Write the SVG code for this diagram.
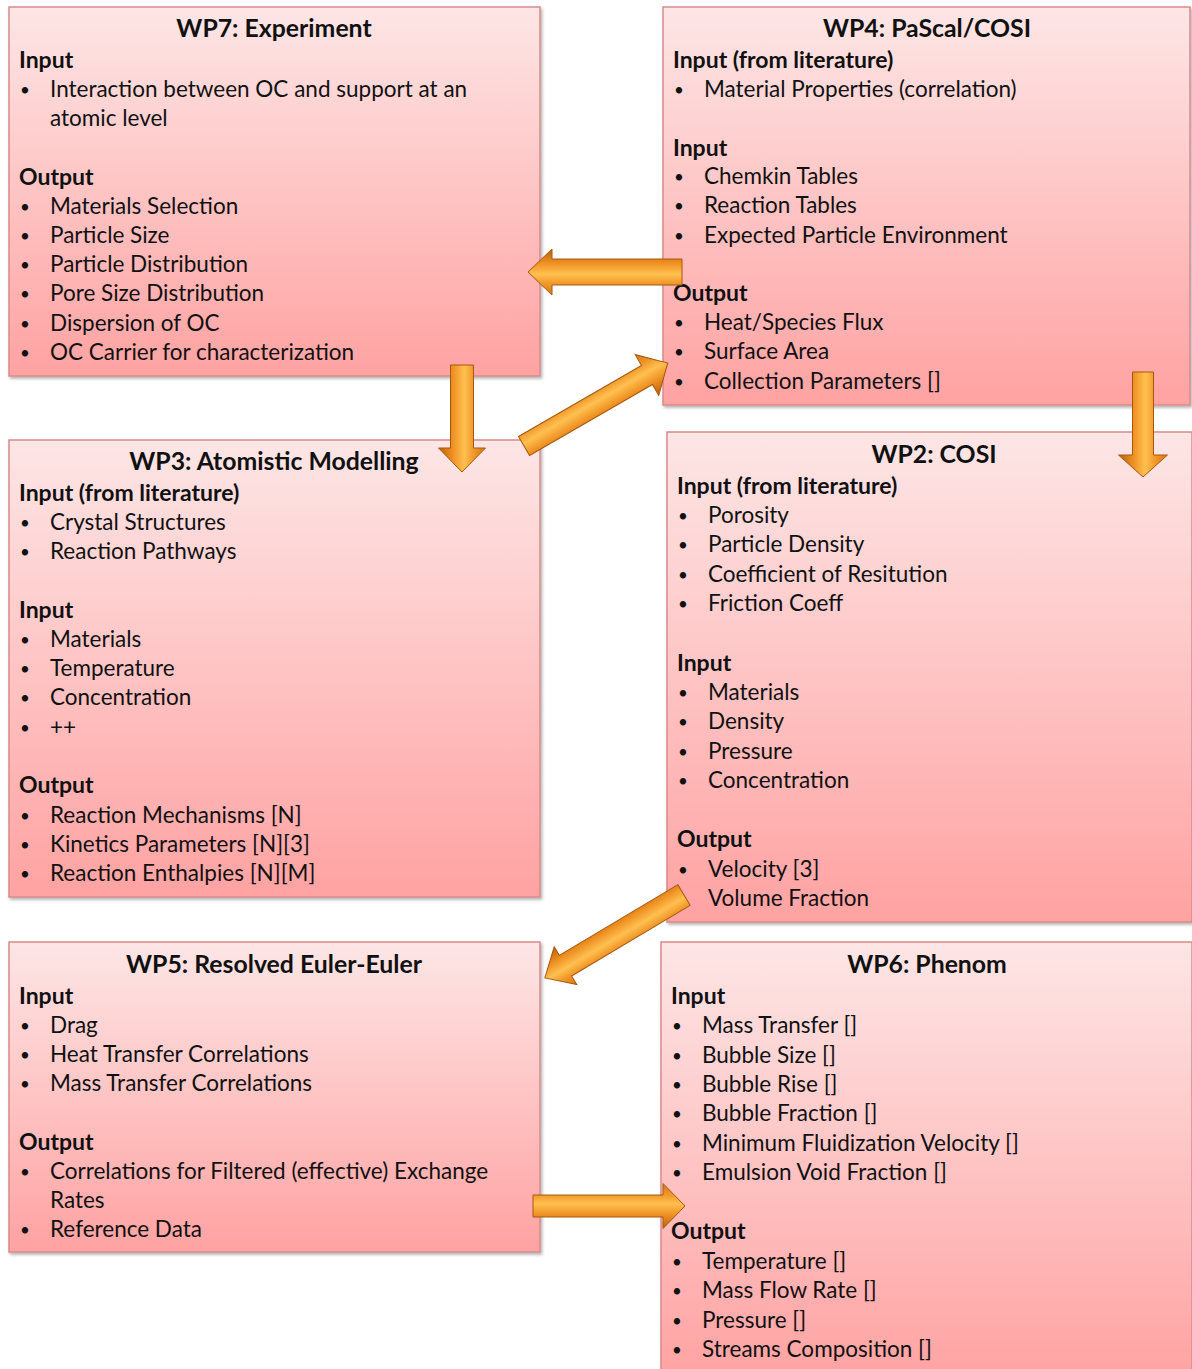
<svg xmlns="http://www.w3.org/2000/svg" width="1192" height="1369" viewBox="0 0 1192 1369">
<style>
text{font-family:Lato,"Open Sans","Liberation Sans",sans-serif;fill:#111;}
.t{font-size:24.8px;font-weight:bold;text-anchor:middle;}
.h{font-size:23px;font-weight:bold;}
.i{font-size:22.5px;}
.b{font-size:17px;}
.box{fill:url(#pink);stroke:#d98a8a;stroke-width:1.5;filter:url(#sh);}
.arr{fill:url(#org);stroke:#a8580c;stroke-width:1;}
</style>
<defs>
<linearGradient id="pink" x1="0" y1="0" x2="0" y2="1">
<stop offset="0" stop-color="#fde6e6"/>
<stop offset="1" stop-color="#ffa2a2"/>
</linearGradient>
<linearGradient id="org" x1="0" y1="0" x2="0" y2="1">
<stop offset="0" stop-color="#d97714"/>
<stop offset="0.25" stop-color="#f0982a"/>
<stop offset="0.45" stop-color="#ffc050"/>
<stop offset="0.7" stop-color="#ee9022"/>
<stop offset="1" stop-color="#b8600c"/>
</linearGradient>
<filter id="sh" x="-5%" y="-5%" width="110%" height="110%">
<feDropShadow dx="1.5" dy="2" stdDeviation="1.5" flood-color="#000" flood-opacity="0.3"/>
</filter>
</defs>
<rect width="1192" height="1369" fill="#fff"/>

<g id="wp7">
<rect class="box" x="9" y="7" width="531" height="369"/>
<text class="t" x="274" y="37">WP7: Experiment</text>
<text class="h" x="19" y="68">Input</text>
<text class="b" x="20" y="96">•</text><text class="i" x="50" y="97">Interaction between OC and support at an</text>
<text class="i" x="50" y="126">atomic level</text>
<text class="h" x="19" y="185">Output</text>
<text class="b" x="20" y="213">•</text><text class="i" x="50" y="214">Materials Selection</text>
<text class="b" x="20" y="242">•</text><text class="i" x="50" y="243">Particle Size</text>
<text class="b" x="20" y="271">•</text><text class="i" x="50" y="272">Particle Distribution</text>
<text class="b" x="20" y="300">•</text><text class="i" x="50" y="301">Pore Size Distribution</text>
<text class="b" x="20" y="330">•</text><text class="i" x="50" y="331">Dispersion of OC</text>
<text class="b" x="20" y="359">•</text><text class="i" x="50" y="360">OC Carrier for characterization</text>
</g>

<g id="wp4">
<rect class="box" x="663" y="7" width="527" height="398"/>
<text class="t" x="927" y="37">WP4: PaScal/COSI</text>
<text class="h" x="673" y="68">Input (from literature)</text>
<text class="b" x="674" y="96">•</text><text class="i" x="704" y="97">Material Properties (correlation)</text>
<text class="h" x="673" y="156">Input</text>
<text class="b" x="674" y="183">•</text><text class="i" x="704" y="184">Chemkin Tables</text>
<text class="b" x="674" y="212">•</text><text class="i" x="704" y="213">Reaction Tables</text>
<text class="b" x="674" y="242">•</text><text class="i" x="704" y="243">Expected Particle Environment</text>
<text class="h" x="673" y="301">Output</text>
<text class="b" x="674" y="329">•</text><text class="i" x="704" y="330">Heat/Species Flux</text>
<text class="b" x="674" y="358">•</text><text class="i" x="704" y="359">Surface Area</text>
<text class="b" x="674" y="388">•</text><text class="i" x="704" y="389">Collection Parameters []</text>
</g>

<g id="wp3">
<rect class="box" x="9" y="440" width="531" height="457"/>
<text class="t" x="274" y="470">WP3: Atomistic Modelling</text>
<text class="h" x="19" y="501">Input (from literature)</text>
<text class="b" x="20" y="529">•</text><text class="i" x="50" y="530">Crystal Structures</text>
<text class="b" x="20" y="558">•</text><text class="i" x="50" y="559">Reaction Pathways</text>
<text class="h" x="19" y="618">Input</text>
<text class="b" x="20" y="646">•</text><text class="i" x="50" y="647">Materials</text>
<text class="b" x="20" y="675">•</text><text class="i" x="50" y="676">Temperature</text>
<text class="b" x="20" y="704">•</text><text class="i" x="50" y="705">Concentration</text>
<text class="b" x="20" y="734">•</text><text class="i" x="50" y="735">++</text>
<text class="h" x="19" y="793">Output</text>
<text class="b" x="20" y="822">•</text><text class="i" x="50" y="823">Reaction Mechanisms [N]</text>
<text class="b" x="20" y="851">•</text><text class="i" x="50" y="852">Kinetics Parameters [N][3]</text>
<text class="b" x="20" y="880">•</text><text class="i" x="50" y="881">Reaction Enthalpies [N][M]</text>
</g>

<g id="wp2">
<rect class="box" x="667" y="432" width="525" height="490"/>
<text class="t" x="934" y="463">WP2: COSI</text>
<text class="h" x="677" y="494">Input (from literature)</text>
<text class="b" x="678" y="522">•</text><text class="i" x="708" y="523">Porosity</text>
<text class="b" x="678" y="551">•</text><text class="i" x="708" y="552">Particle Density</text>
<text class="b" x="678" y="581">•</text><text class="i" x="708" y="582">Coefficient of Resitution</text>
<text class="b" x="678" y="610">•</text><text class="i" x="708" y="611">Friction Coeff</text>
<text class="h" x="677" y="671">Input</text>
<text class="b" x="678" y="699">•</text><text class="i" x="708" y="700">Materials</text>
<text class="b" x="678" y="728">•</text><text class="i" x="708" y="729">Density</text>
<text class="b" x="678" y="758">•</text><text class="i" x="708" y="759">Pressure</text>
<text class="b" x="678" y="787">•</text><text class="i" x="708" y="788">Concentration</text>
<text class="h" x="677" y="847">Output</text>
<text class="b" x="678" y="876">•</text><text class="i" x="708" y="877">Velocity [3]</text>
<text class="i" x="708" y="906">Volume Fraction</text>
</g>

<g id="wp5">
<rect class="box" x="9" y="942" width="531" height="310"/>
<text class="t" x="274" y="973">WP5: Resolved Euler-Euler</text>
<text class="h" x="19" y="1004">Input</text>
<text class="b" x="20" y="1032">•</text><text class="i" x="50" y="1033">Drag</text>
<text class="b" x="20" y="1061">•</text><text class="i" x="50" y="1062">Heat Transfer Correlations</text>
<text class="b" x="20" y="1090">•</text><text class="i" x="50" y="1091">Mass Transfer Correlations</text>
<text class="h" x="19" y="1150">Output</text>
<text class="b" x="20" y="1178">•</text><text class="i" x="50" y="1179">Correlations for Filtered (effective) Exchange</text>
<text class="i" x="50" y="1208">Rates</text>
<text class="b" x="20" y="1236">•</text><text class="i" x="50" y="1237">Reference Data</text>
</g>

<g id="wp6">
<rect class="box" x="661" y="942" width="531" height="440"/>
<text class="t" x="927" y="973">WP6: Phenom</text>
<text class="h" x="671" y="1004">Input</text>
<text class="b" x="672" y="1032">•</text><text class="i" x="702" y="1033">Mass Transfer []</text>
<text class="b" x="672" y="1062">•</text><text class="i" x="702" y="1063">Bubble Size []</text>
<text class="b" x="672" y="1091">•</text><text class="i" x="702" y="1092">Bubble Rise []</text>
<text class="b" x="672" y="1120">•</text><text class="i" x="702" y="1121">Bubble Fraction []</text>
<text class="b" x="672" y="1150">•</text><text class="i" x="702" y="1151">Minimum Fluidization Velocity []</text>
<text class="b" x="672" y="1179">•</text><text class="i" x="702" y="1180">Emulsion Void Fraction []</text>
<text class="h" x="671" y="1239">Output</text>
<text class="b" x="672" y="1268">•</text><text class="i" x="702" y="1269">Temperature []</text>
<text class="b" x="672" y="1297">•</text><text class="i" x="702" y="1298">Mass Flow Rate []</text>
<text class="b" x="672" y="1327">•</text><text class="i" x="702" y="1328">Pressure []</text>
<text class="b" x="672" y="1356">•</text><text class="i" x="702" y="1357">Streams Composition []</text>
</g>

<g id="connectors">
<path class="arr" transform="translate(682,272) rotate(180)" d="M0,-13 L130,-13 L130,-23 L154,0 L130,23 L130,13 L0,13 Z"/>
<path class="arr" transform="translate(462,365) rotate(90)" d="M0,-11.5 L83,-11.5 L83,-23.5 L107,0 L83,23.5 L83,11.5 L0,11.5 Z"/>
<path class="arr" transform="translate(524,446) rotate(-30)" d="M0,-11 L142,-11 L142,-23.5 L166,0 L142,23.5 L142,11 L0,11 Z"/>
<path class="arr" transform="translate(1143,372) rotate(90)" d="M0,-10.5 L83,-10.5 L83,-24.5 L105,0 L83,24.5 L83,10.5 L0,10.5 Z"/>
<path class="arr" transform="translate(684,895) rotate(149.2)" d="M0,-12 L138,-12 L138,-22 L162,0 L138,22 L138,12 L0,12 Z"/>
<path class="arr" transform="translate(533,1206)" d="M0,-11 L130,-11 L130,-22.5 L152,0 L130,22.5 L130,11 L0,11 Z"/>
</g>
</svg>
